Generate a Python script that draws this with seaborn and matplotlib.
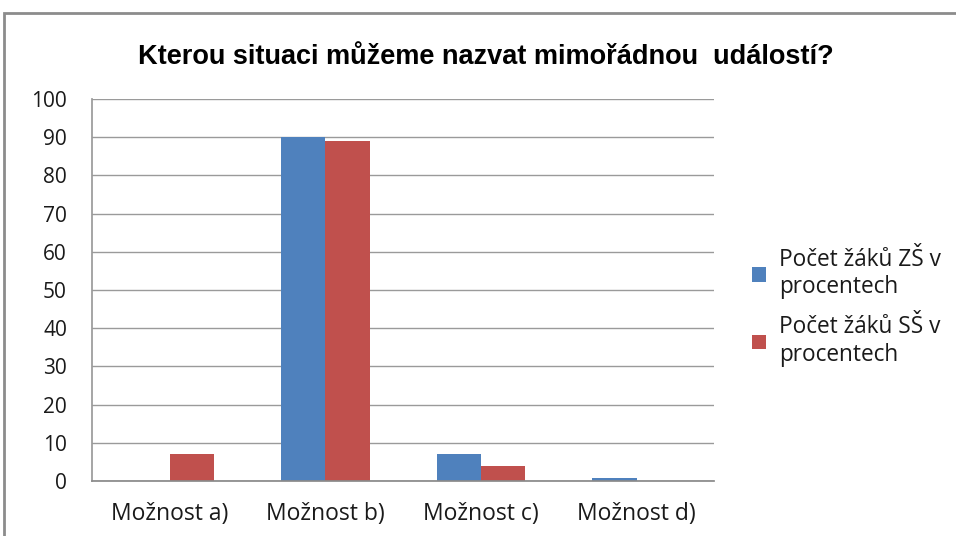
import pandas as pd
import matplotlib
matplotlib.use("Agg")
import matplotlib.pyplot as plt
import seaborn as sns
from matplotlib.patches import Rectangle

# data
categories = ["Možnost a)", "Možnost b)", "Možnost c)", "Možnost d)"]
zs_values = [0, 90, 7, 0.8]
ss_values = [7, 89, 4, 0]
series_names = ["Počet žáků ZŠ v\nprocentech", "Počet žáků SŠ v\nprocentech"]
title = "Kterou situaci můžeme nazvat mimořádnou  událostí?"

df = pd.DataFrame({
    "kategorie": categories * 2,
    "hodnota": zs_values + ss_values,
    "skupina": [series_names[0]] * len(categories) + [series_names[1]] * len(categories),
})

sns.set_theme(style="white")
plt.rcParams["font.family"] = ["Open Sans", "DejaVu Sans"]

fig = plt.figure(figsize=(9.56, 5.36), dpi=100)
ax = fig.add_axes([0.0962, 0.1026, 0.651, 0.7127])

palette = ["#4F81BD", "#C0504D"]
sns.barplot(data=df, x="kategorie", y="hodnota", hue="skupina", palette=palette,
            width=0.57, saturation=1, linewidth=0, ax=ax, legend=True)

ax.set_ylim(0, 100)
ax.set_yticks(range(0, 101, 10))
ax.set_xlim(-0.5, 3.5)
ax.yaxis.grid(True, color="#9a9a9a", linewidth=1)
ax.set_axisbelow(True)
ax.set_xlabel("")
ax.set_ylabel("")
for s in ["top", "right"]:
    ax.spines[s].set_visible(False)
ax.spines["left"].set_color("#9a9a9a")
ax.spines["bottom"].set_color("#8a8a8a")
ax.tick_params(axis="y", labelsize=15, length=0, pad=18, labelcolor="#1a1a1a")
ax.tick_params(axis="x", labelsize=16.5, length=0, pad=15, labelcolor="#1a1a1a")

ax.legend(loc="center left", bbox_to_anchor=(1.061, 0.455), frameon=False, fontsize=16.3,
          handlelength=0.6, handleheight=0.6, handletextpad=0.6, labelspacing=0.7,
          borderaxespad=0, borderpad=0, labelcolor="#1a1a1a")

fig.text(0.508, 0.893, title, ha="center", va="center", fontsize=19.5, fontweight="bold",
         family=["Liberation Sans", "DejaVu Sans"], color="#000000")

# outer chart frame
fig.patches.append(Rectangle((4 / 956, -0.05), 1.1, (536 - 13) / 536 + 0.05,
                             transform=fig.transFigure, fill=False,
                             edgecolor="#8c8c8c", linewidth=2))

fig.savefig("out.png", dpi=100)
